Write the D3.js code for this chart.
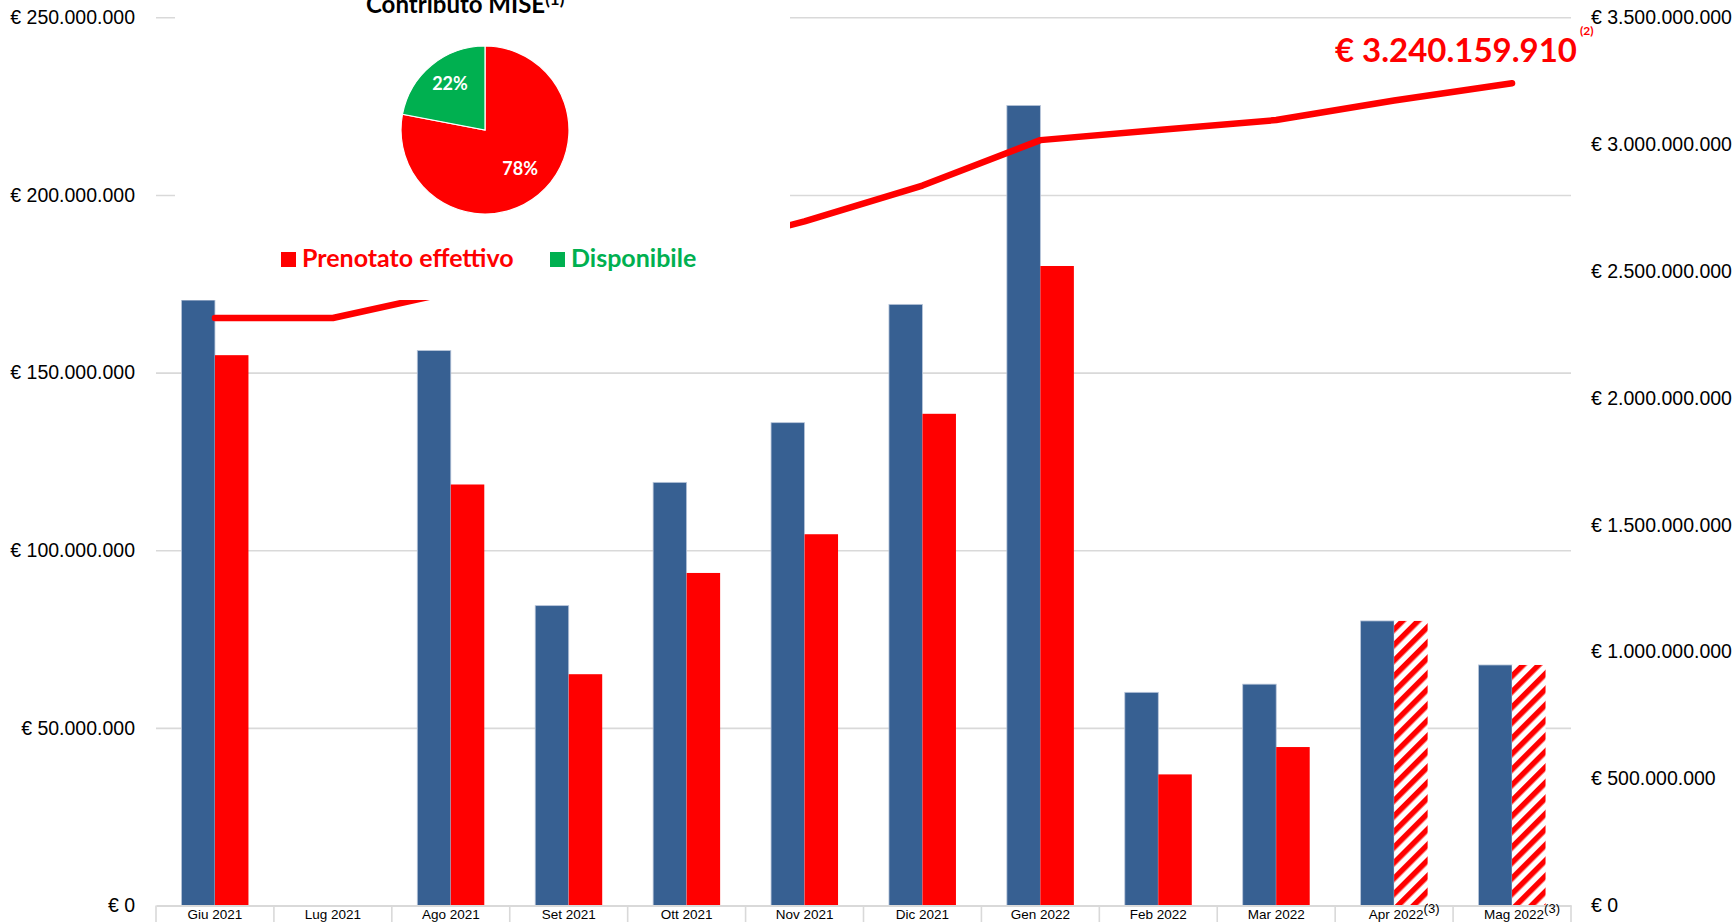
<!DOCTYPE html>
<html>
<head>
<meta charset="utf-8">
<script src="https://d3js.org/d3.v7.min.js"></script>
<style>
body { margin: 0; background: #fff; font-family: Lato, "Open Sans", sans-serif; }
.axis text { font-size: 19.5px; fill: #000; }
.axis path { display: none; }
.xaxis text { font-size: 13.5px; fill: #000; }
.grid line { stroke: #d9d9d9; stroke-width: 1.6px; }
.grid path { display: none; }
</style>
</head>
<body>
<div id="chart"></div>
<script>
// mesi
var months = ["Giu 2021", "Lug 2021", "Ago 2021", "Set 2021", "Ott 2021", "Nov 2021",
              "Dic 2021", "Gen 2022", "Feb 2022", "Mar 2022", "Apr 2022", "Mag 2022"];
// barre blu (asse sinistro, euro)
var blueValues = [170.4e6, 0, 156.2e6, 84.4e6, 119.1e6, 135.9e6, 169.2e6, 225.2e6, 60.0e6, 62.3e6, 80.1e6, 67.7e6];
// barre rosse (asse sinistro, euro)
var redValues = [154.9e6, 0, 118.5e6, 65.1e6, 93.6e6, 104.5e6, 138.4e6, 180.0e6, 36.9e6, 44.6e6, 80.1e6, 67.7e6];
// mesi con nota (3): barra rossa tratteggiata
var footnote3 = [false, false, false, false, false, false, false, false, false, false, true, true];
// linea cumulata (asse destro, euro)
var lineValues = [2.315e9, 2.315e9, 2.417e9, 2.50e9, 2.574e9, 2.696e9, 2.837e9, 3.016e9, 3.056e9, 3.095e9, 3.172e9, 3.240159910e9];
// tick degli assi
var leftTicks = [0, 50e6, 100e6, 150e6, 200e6, 250e6];
var rightTicks = [0, 0.5e9, 1e9, 1.5e9, 2e9, 2.5e9, 3e9, 3.5e9];
// torta contributo MISE
var pieLabels = ["Prenotato effettivo", "Disponibile"];
var pieValues = [78, 22];
var pieColors = ["#ff0000", "#00b050"];

var W = 1734, H = 922;
var plotL = 156, plotR = 1571, plotT = 17.3, plotB = 905.5;
var blue = "#376092", red = "#ff0000";

var it = d3.formatLocale({decimal: ",", thousands: ".", grouping: [3], currency: ["€ ", ""]});
var fmt = function(d) { return "€ " + it.format(",")(d); };

var svg = d3.select("#chart").append("svg")
  .attr("width", W).attr("height", H);

var defs = svg.append("defs");
var pat = defs.append("pattern")
  .attr("id", "hatch")
  .attr("patternUnits", "userSpaceOnUse")
  .attr("width", 11).attr("height", 11)
  .attr("patternTransform", "rotate(45)");
pat.append("rect").attr("width", 11).attr("height", 11).attr("fill", "#fff");
pat.append("rect").attr("width", 5.5).attr("height", 11).attr("fill", red);

/* Scale */
var x = d3.scaleBand().domain(months).range([plotL, plotR]);
var xSub = d3.scaleBand().domain(["blue", "red"]).range([0, x.bandwidth()]).paddingOuter(0.76);
var yL = d3.scaleLinear().domain([0, 250e6]).range([plotB, plotT]);
var yR = d3.scaleLinear().domain([0, 3.5e9]).range([plotB, plotT]);

/* griglia */
svg.append("g")
  .attr("class", "grid")
  .attr("transform", `translate(${plotL},0)`)
  .call(d3.axisLeft(yL).tickValues(leftTicks.slice(1)).tickSize(-(plotR - plotL)).tickFormat(""));

/* barre */
var groups = svg.append("g").selectAll("g")
  .data(months).enter().append("g")
  .attr("transform", d => `translate(${x(d)},0)`);

groups.append("rect")
  .attr("x", xSub("blue"))
  .attr("width", xSub.bandwidth())
  .attr("y", (d, i) => yL(blueValues[i]))
  .attr("height", (d, i) => plotB - yL(blueValues[i]))
  .attr("fill", blue)
  .attr("stroke", "#b9c6da")
  .attr("stroke-width", (d, i) => blueValues[i] > 0 ? 0.8 : 0);

groups.append("rect")
  .attr("x", xSub("red"))
  .attr("width", xSub.bandwidth())
  .attr("y", (d, i) => yL(redValues[i]))
  .attr("height", (d, i) => plotB - yL(redValues[i]))
  .attr("fill", (d, i) => footnote3[i] ? "url(#hatch)" : red);

/* asse x */
var xAxis = svg.append("g")
  .attr("class", "xaxis")
  .attr("transform", `translate(0,${plotB})`)
  .call(d3.axisBottom(x).tickSize(0).tickPadding(4));
xAxis.select(".domain").attr("stroke", "#d9d9d9").attr("stroke-width", 2);
xAxis.selectAll(".tick text")
  .each(function(d, i) {
    if (footnote3[i]) {
      d3.select(this)
        .append("tspan").attr("dy", "-0.45em").style("font-size", "13px").text("(3)");
      d3.select(this).attr("x", 10);
    }
  });

svg.append("g").selectAll("line")
  .data(months.concat(["end"])).enter().append("line")
  .attr("x1", d => d === "end" ? plotR : x(d))
  .attr("x2", d => d === "end" ? plotR : x(d))
  .attr("y1", plotB).attr("y2", H)
  .attr("stroke", "#d9d9d9").attr("stroke-width", 1.6);

/* assi y */
svg.append("g")
  .attr("class", "axis")
  .attr("transform", `translate(${plotL},0)`)
  .call(d3.axisLeft(yL).tickValues(leftTicks).tickSize(0).tickPadding(21).tickFormat(fmt));

svg.append("g")
  .attr("class", "axis")
  .attr("transform", `translate(${plotR},0)`)
  .call(d3.axisRight(yR).tickValues(rightTicks).tickSize(0).tickPadding(20).tickFormat(fmt));

/* linea */
var line = d3.line()
  .x((d, i) => x(months[i]) + x.bandwidth() / 2)
  .y(d => yR(d));
svg.append("path")
  .datum(lineValues)
  .attr("d", line)
  .attr("fill", "none")
  .attr("stroke", red)
  .attr("stroke-width", 6.5)
  .attr("stroke-linecap", "round")
  .attr("stroke-linejoin", "round");

svg.append("text")
  .attr("x", 1577).attr("y", 62)
  .attr("text-anchor", "end")
  .attr("fill", red)
  .style("font-size", "33px").style("font-weight", "bold")
  .text(fmt(Math.round(lineValues[lineValues.length - 1])));
svg.append("text")
  .attr("x", 1580).attr("y", 35)
  .attr("fill", red)
  .style("font-size", "12px").style("font-weight", "bold")
  .text("(2)");

/* riquadro torta */
svg.append("rect")
  .attr("x", 175).attr("y", 0)
  .attr("width", 615).attr("height", 300)
  .attr("fill", "#fff");

var title = svg.append("text")
  .attr("x", 366).attr("y", 13)
  .style("font-size", "24px").style("font-weight", "bold")
  .text("Contributo MISE");
title.append("tspan")
  .attr("dy", "-0.45em")
  .style("font-size", "17px")
  .text("(1)");

var pie = d3.pie().sort(null)(pieValues);
var arc = d3.arc().innerRadius(0).outerRadius(84);
var labelArc = d3.arc().innerRadius(55).outerRadius(55);
var pg = svg.append("g").attr("transform", "translate(485,130)");
pg.selectAll("path")
  .data(pie).enter().append("path")
  .attr("d", arc)
  .attr("fill", (d, i) => pieColors[i])
  .attr("stroke", "#fff")
  .attr("stroke-width", 1.2);
pg.selectAll("text")
  .data(pie).enter().append("text")
  .attr("transform", d => `translate(${labelArc.centroid(d)})`)
  .attr("text-anchor", "middle")
  .attr("dy", "0.15em")
  .attr("fill", "#fff")
  .style("font-size", "18px").style("font-weight", "bold")
  .text(d => d.data + "%");

var legendX = [281, 550];
var lg = svg.append("g").selectAll("g")
  .data(pieLabels).enter().append("g")
  .attr("transform", (d, i) => `translate(${legendX[i]},252)`);
lg.append("rect")
  .attr("width", 15).attr("height", 15)
  .attr("fill", (d, i) => pieColors[i]);
lg.append("text")
  .attr("x", 21).attr("y", 15)
  .attr("fill", (d, i) => pieColors[i])
  .style("font-size", "25px").style("font-weight", "bold")
  .text(d => d);
</script>
</body>
</html>
